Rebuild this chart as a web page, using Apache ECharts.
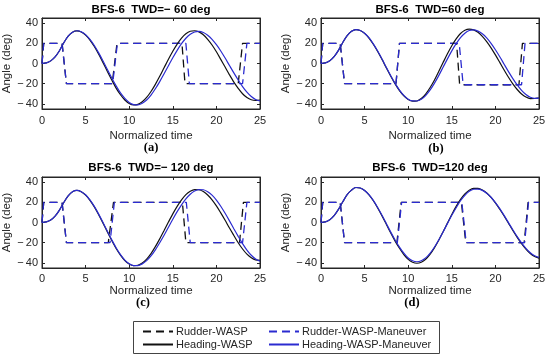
<!DOCTYPE html>
<html><head><meta charset="utf-8">
<script src="https://cdn.jsdelivr.net/npm/echarts@6/dist/echarts.min.js"></script>
<style>html,body{margin:0;padding:0;background:#fff}#c{width:550px;height:359px}</style>
</head><body><div id="c"></div>
<script>
// ---------- data ----------
const T = [0,0.5,1,1.5,2,2.5,3,3.5,4,4.5,5,5.5,6,6.5,7,7.5,8,8.5,9,9.5,10,10.5,11,11.5,12,12.5,13,13.5,14,14.5,15,15.5,16,16.5,17,17.5,18,18.5,19,19.5,20,20.5,21,21.5,22,22.5,23,23.5,24,24.5,25];
const X_TICKS = [0,5,10,15,20,25];
const Y_TICKS = [-40,-20,0,20,40];
const TITLES = ['BFS-6  TWD=\u2212 60 deg','BFS-6  TWD=60 deg','BFS-6  TWD=\u2212 120 deg','BFS-6  TWD=120 deg'];
const PANEL_TAGS = ['(a)','(b)','(c)','(d)'];
const SERIES_NAMES = ['Rudder-WASP','Rudder-WASP-Maneuver','Heading-WASP','Heading-WASP-Maneuver'];

const HEAD_A_WASP = [0,0.6,2.6,6.5,12.6,20.5,27,31,32.2,31.2,28.1,23.2,16.8,9.2,0.8,-7.9,-16.3,-24.3,-30.9,-36.1,-39.5,-40.95,-40.4,-37.9,-33.6,-27.7,-20.6,-12.7,-4.25,4.2,12.1,19.2,25.1,29.4,31.9,32.4,31.3,28.5,23.9,18.3,11.6,4.1,-3.5,-11.2,-18.4,-24.5,-29.9,-33.7,-35.9,-36.5,-36.2];
const HEAD_A_MAN  = [0,0.6,2.6,6.5,12.6,20.5,27,31,32.4,31.4,28.6,23.9,17.8,10.5,2.5,-6.0,-14.3,-22.1,-29.1,-34.5,-38.5,-40.6,-40.9,-39.3,-36.1,-31.2,-25.0,-17.9,-10.2,-2.2,5.7,13.0,19.6,25.0,28.9,31.2,31.8,30.7,28.0,23.9,18.6,12.4,5.4,-2.0,-9.3,-16.3,-22.8,-28.3,-32.7,-35.6,-37.1];
const HEAD_B_WASP = [0,0.6,2.7,6.8,13,20.8,27.5,31.8,33.6,32.6,29.8,25.2,19.0,11.8,3.9,-4.5,-12.6,-20.2,-26.8,-32.0,-35.6,-37.3,-37.1,-34.7,-30.2,-24.0,-16.6,-8.0,0.9,9.6,17.6,24.4,29.7,32.9,34.0,33.2,30.8,26.9,21.7,15.5,8.5,1.1,-6.4,-13.6,-20.1,-25.7,-30.2,-33.2,-34.7,-34.6,-34.0];
const HEAD_B_MAN  = [0,0.6,2.7,6.8,13,20.8,27.5,31.8,33.6,32.7,30.0,25.5,19.4,12.3,4.4,-4.0,-12.1,-19.7,-26.3,-31.6,-35.3,-37.0,-37.1,-35.4,-31.7,-26.4,-19.7,-12.0,-3.7,4.6,12.5,19.6,25.7,30.0,32.6,33.2,32.0,29.4,25.3,19.9,13.6,6.7,-0.7,-8.0,-14.9,-21.2,-26.6,-30.7,-33.4,-34.5,-34.2];
const HEAD_C_WASP = [0,0.6,2.5,6.3,12.3,19.8,26.3,30.5,31.8,30.4,27.1,21.9,15.4,7.7,-0.7,-9.4,-17.8,-25.7,-32.3,-37.7,-41.1,-42.7,-42.3,-40.1,-36.2,-30.7,-23.9,-16.2,-8.0,0.4,8.5,15.9,22.3,27.5,30.9,32.6,32.4,30.6,27.2,22.4,16.4,9.5,2.2,-5.5,-12.8,-20.0,-26.2,-31.3,-34.8,-37.0,-37.5];
const HEAD_C_MAN  = [0,0.6,2.5,6.3,12.3,19.8,26.3,30.5,31.8,30.5,27.4,22.3,15.9,8.3,0,-8.7,-17.1,-25.0,-31.8,-37.2,-40.8,-42.6,-42.6,-40.9,-37.7,-33.0,-27.0,-20.0,-12.6,-4.7,3.2,10.7,17.5,23.4,28.0,31.1,32.6,32.4,30.5,27.1,22.2,16.1,9.1,1.6,-6.2,-13.7,-20.9,-27.3,-32.4,-36.1,-38.3];
const HEAD_D_WASP = [0,0.6,2.7,6.8,13,20.5,27.5,32.0,34.6,34.1,31.6,27.3,21.5,14.4,6.5,-1.9,-10.4,-18.4,-25.5,-31.7,-36.5,-39.3,-40.3,-39.3,-36.3,-31.5,-25.1,-17.5,-9.2,-0.5,8.0,15.9,22.8,28.3,32.0,33.8,33.7,32.1,29.1,24.8,19.4,13.1,6.4,-0.75,-7.9,-14.7,-20.9,-26.3,-30.7,-33.6,-35.2];
const HEAD_D_MAN  = [0,0.6,2.7,6.8,13,20.5,27.5,32.0,34.6,34.1,31.7,27.5,21.8,14.8,7.1,-1.2,-9.5,-17.3,-24.3,-30.3,-35.1,-37.9,-38.8,-37.8,-35.0,-30.5,-24.5,-17.3,-9.4,-1.1,7.1,14.6,21.5,26.8,30.8,32.9,33.1,31.8,29.0,25.0,19.7,13.7,7.0,-0.1,-7.2,-14.0,-20.2,-25.6,-29.9,-32.9,-34.5];

// rudder: [time, angle] breakpoints
const RUD_A_WASP = [[0,0],[0.2,20],[2.3,20],[2.8,-20],[8.05,-20],[8.6,20],[16.05,20],[16.4,-20],[22.5,-20],[23.0,20],[25,20]];
const RUD_A_MAN  = [[0,0],[0.2,20],[2.3,20],[2.8,-20],[8.1,-20],[8.65,20],[16.5,20],[16.9,-20],[23.0,-20],[23.5,20],[25,20]];
const RUD_B_WASP = [[0,0],[0.2,20],[2.2,20],[2.7,-20],[8.6,-20],[9.0,20],[15.55,20],[15.9,-21],[22.7,-21],[23.1,20],[25,20]];
const RUD_B_MAN  = [[0,0],[0.2,20],[2.2,20],[2.7,-20],[8.6,-20],[9.0,20],[15.85,20],[16.3,-21],[23.0,-21],[23.4,20],[25,20]];
const RUD_C_WASP = [[0,0],[0.2,20],[2.3,20],[2.8,-20],[7.6,-20],[8.2,20],[16.1,20],[16.5,-20],[22.65,-20],[23.1,20],[25,20]];
const RUD_C_MAN  = [[0,0],[0.2,20],[2.3,20],[2.8,-20],[7.8,-20],[8.3,20],[16.55,20],[17.0,-20],[23.0,-20],[23.5,20],[25,20]];
const RUD_D_WASP = [[0,0],[0.2,20],[2.2,20],[2.7,-20],[8.7,-20],[9.2,20],[16.1,20],[16.6,-20],[23.3,-20],[23.75,20],[25,20]];
const RUD_D_MAN  = [[0,0],[0.2,20],[2.2,20],[2.7,-20],[8.75,-20],[9.25,20],[16.15,20],[16.65,-20],[23.35,-20],[23.8,20],[25,20]];

const PANELS = [
  {rw:RUD_A_WASP, rm:RUD_A_MAN, hw:HEAD_A_WASP, hm:HEAD_A_MAN},
  {rw:RUD_B_WASP, rm:RUD_B_MAN, hw:HEAD_B_WASP, hm:HEAD_B_MAN},
  {rw:RUD_C_WASP, rm:RUD_C_MAN, hw:HEAD_C_WASP, hm:HEAD_C_MAN},
  {rw:RUD_D_WASP, rm:RUD_D_MAN, hw:HEAD_D_WASP, hm:HEAD_D_MAN}
];

// ---------- layout / style ----------
const FONT = '"Liberation Sans", Arial, sans-serif';
const AX = '#262626';
const BLACK = '#111111';
const BLUE = '#2b2bd0';
const GRID_POS = [{left:42,top:18},{left:321,top:18},{left:42,top:177},{left:321,top:177}];
const NAME_GAP = [21,21,16,16];
const GW = 218, GH = 91;
const TITLE_POS = [[151,10],[430,10],[151,168],[430,168]];
const TAG_POS = [[151,148],[436,149],[143,303],[412,303]];

const fmtNum = v => v < 0 ? '\u2212\u2009' + Math.abs(v) : String(v);
const pair = (xs, ys) => xs.map((x, i) => [x, ys[i]]);

const grids = [], xAxes = [], yAxes = [], series = [], graphics = [];
GRID_POS.forEach((g, i) => {
  grids.push({left:g.left, top:g.top, width:GW, height:GH, show:true, borderColor:AX, borderWidth:1, backgroundColor:'#fff'});
  const tick = {inside:true, length:3, lineStyle:{color:AX, width:1}};
  xAxes.push({gridIndex:i, type:'value', min:0, max:25, interval:5, position:'bottom',
    axisLine:{show:true, onZero:false, lineStyle:{color:AX}}, axisTick:tick,
    axisLabel:{color:AX, fontSize:11, margin:i < 2 ? 6 : 5, fontFamily:FONT, formatter:v => X_TICKS.includes(v) ? fmtNum(v) : ''},
    splitLine:{show:false},
    name:'Normalized time', nameLocation:'middle', nameGap:NAME_GAP[i],
    nameTextStyle:{color:AX, fontSize:11.5, fontFamily:FONT}});
  xAxes.push({gridIndex:i, type:'value', min:0, max:25, interval:5, position:'top',
    axisLine:{show:true, onZero:false, lineStyle:{color:AX}}, axisTick:tick,
    axisLabel:{show:false}, splitLine:{show:false}});
  yAxes.push({gridIndex:i, type:'value', min:-45, max:45, splitNumber:5, position:'left',
    axisLine:{show:true, onZero:false, lineStyle:{color:AX}}, axisTick:tick,
    axisLabel:{color:AX, fontSize:11, margin:4, fontFamily:FONT, showMinLabel:false, showMaxLabel:false,
      formatter:v => Y_TICKS.includes(v) ? fmtNum(v) : ''},
    splitLine:{show:false},
    name:'Angle (deg)', nameLocation:'middle', nameGap:21,
    nameTextStyle:{color:AX, fontSize:11.5, fontFamily:FONT}});
  yAxes.push({gridIndex:i, type:'value', min:-45, max:45, splitNumber:5, position:'right',
    axisLine:{show:true, onZero:false, lineStyle:{color:AX}}, axisTick:tick,
    axisLabel:{show:false}, splitLine:{show:false}});

  const p = PANELS[i];
  const base = {type:'line', xAxisIndex:2*i, yAxisIndex:2*i, symbol:'none', showSymbol:false, animation:false};
  series.push(Object.assign({}, base, {name:SERIES_NAMES[0], data:p.rw, lineStyle:{color:BLACK, width:1.3, type:[8,5]}, itemStyle:{color:BLACK}}));
  series.push(Object.assign({}, base, {name:SERIES_NAMES[1], data:p.rm, lineStyle:{color:BLUE, width:1.3, type:[8,5]}, itemStyle:{color:BLUE}}));
  series.push(Object.assign({}, base, {name:SERIES_NAMES[2], data:pair(T, p.hw), smooth:0.3, lineStyle:{color:BLACK, width:1.2}, itemStyle:{color:BLACK}}));
  series.push(Object.assign({}, base, {name:SERIES_NAMES[3], data:pair(T, p.hm), smooth:0.3, lineStyle:{color:BLUE, width:1.2}, itemStyle:{color:BLUE}}));

  graphics.push({type:'text', x:TITLE_POS[i][0], y:TITLE_POS[i][1], style:{text:TITLES[i], fill:'#000',
    font:'bold 11.5px ' + FONT, align:'center', verticalAlign:'middle', textAlign:'center', textVerticalAlign:'middle'}});
  graphics.push({type:'text', x:TAG_POS[i][0], y:TAG_POS[i][1], style:{text:PANEL_TAGS[i], fill:'#000',
    font:'bold 12.5px "Liberation Serif", "DejaVu Serif", serif', align:'center', verticalAlign:'middle', textAlign:'center', textVerticalAlign:'middle'}});
});
graphics.push({type:'rect', shape:{x:133.5, y:321.5, width:306, height:32}, style:{fill:'none', stroke:'#444', lineWidth:1}, z:0});

const legendCommon = {orient:'vertical', itemWidth:30, itemHeight:11, itemGap:2,
  itemStyle:{opacity:0, borderWidth:0},
  textStyle:{color:AX, fontSize:11, fontFamily:FONT, padding:[0,0,0,-2]}, padding:0};

const option = {
  animation:false,
  backgroundColor:'#fff',
  grid:grids, xAxis:xAxes, yAxis:yAxes, series:series,
  legend:[
    Object.assign({}, legendCommon, {left:142, top:326, data:[SERIES_NAMES[0], SERIES_NAMES[2]]}),
    Object.assign({}, legendCommon, {left:268, top:326, data:[SERIES_NAMES[1], SERIES_NAMES[3]]})
  ],
  graphic:graphics
};
const chart = echarts.init(document.getElementById('c'), null, {renderer:'canvas'});
chart.setOption(option);
</script></body></html>
